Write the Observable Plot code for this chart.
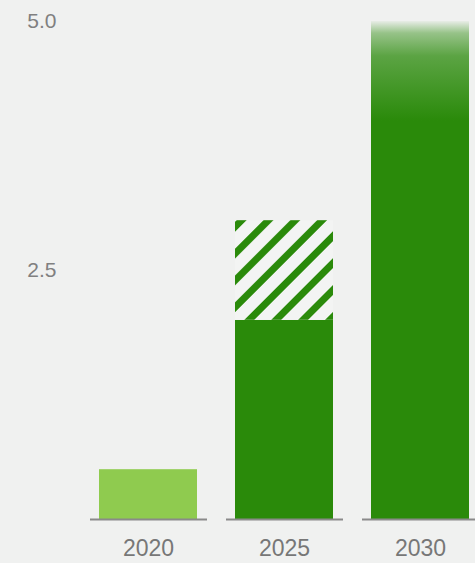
<!DOCTYPE html>
<html>
<head>
<meta charset="utf-8">
<script src="https://cdn.jsdelivr.net/npm/d3@7"></script>
<script src="https://cdn.jsdelivr.net/npm/@observablehq/plot@0.6"></script>
<style>
  html, body { margin: 0; padding: 0; background: #f0f1f0; }
  #chart svg { display: block; }
</style>
</head>
<body>
<div id="chart"></div>
<script>
// Data
const years = ["2020", "2025", "2030"];
const solidValues = [0.5, 2.0, 4.0];
const hatchedTop = [null, 3.0, null];
const fadedTop = [null, null, 5.0];
const yTicks = [2.5, 5.0];
const yTickLabels = ["2.5", "5.0"];

const lightGreen = "#8fcb4f";
const darkGreen = "#2a8a0a";

const solid = years.map((year, i) => ({year, value: solidValues[i], fill: i === 0 ? lightGreen : darkGreen}));
const hatched = years.map((year, i) => ({year, y1: solidValues[i], y2: hatchedTop[i]})).filter(d => d.y2 != null);
const faded = years.map((year, i) => ({year, y1: solidValues[i], y2: fadedTop[i]})).filter(d => d.y2 != null);

const plot = Plot.plot({
  width: 475,
  height: 563,
  marginLeft: 93,
  marginRight: 0,
  marginTop: 21,
  marginBottom: 44,
  style: {background: "#f0f1f0", fontFamily: "'Liberation Sans', Arial, sans-serif", color: "#7a7a7a"},
  x: {domain: years, paddingInner: 0.28, paddingOuter: 0.044, label: null},
  y: {domain: [0, 5], label: null},
  marks: [
    Plot.barY(solid.filter(d => d.fill === lightGreen), {x: "year", y: "value", fill: lightGreen}),
    Plot.barY(solid.filter(d => d.fill === darkGreen), {x: "year", y: "value", fill: darkGreen, shapeRendering: "crispEdges"}),
    Plot.barY(hatched, {x: "year", y1: "y1", y2: "y2", fill: "url(#hatch)"}),
    Plot.barY(faded, {x: "year", y1: "y1", y2: "y2", fill: "url(#fade)", shapeRendering: "crispEdges"}),
    Plot.tickY(years, {x: d => d, y: () => 0, stroke: "#8a8a8a", strokeWidth: 2, insetLeft: -9, insetRight: -10}),
    Plot.axisX({tickSize: 0, tickPadding: 20, fontSize: 23, fill: "#777777", label: null, style: {letterSpacing: "-0.5px"}}),
    Plot.axisY({ticks: yTicks, tickFormat: (d) => yTickLabels[yTicks.indexOf(d)], tickSize: 0, tickPadding: 37, fontSize: 21, fill: "#808080", label: null})
  ]
});

const svg = d3.select(plot);
const defs = svg.insert("defs", ":first-child");
const pat = defs.append("pattern")
  .attr("id", "hatch")
  .attr("patternUnits", "userSpaceOnUse")
  .attr("width", 19)
  .attr("height", 19)
  .attr("patternTransform", "rotate(45)");
pat.append("rect").attr("width", 19).attr("height", 19).attr("fill", "#f3f4f3");
pat.append("rect").attr("x", 0).attr("width", 7).attr("height", 19).attr("fill", darkGreen);

const grad = defs.append("linearGradient")
  .attr("id", "fade")
  .attr("x1", 0).attr("y1", 0).attr("x2", 0).attr("y2", 1);
grad.append("stop").attr("offset", "0").attr("stop-color", darkGreen).attr("stop-opacity", 0.04);
grad.append("stop").attr("offset", "0.12").attr("stop-color", darkGreen).attr("stop-opacity", 0.45);
grad.append("stop").attr("offset", "0.35").attr("stop-color", darkGreen).attr("stop-opacity", 0.75);
grad.append("stop").attr("offset", "1").attr("stop-color", darkGreen).attr("stop-opacity", 1);

document.getElementById("chart").appendChild(plot);
</script>
</body>
</html>
